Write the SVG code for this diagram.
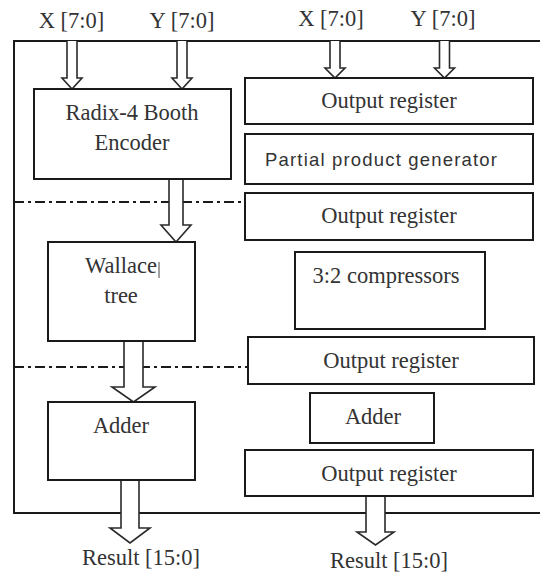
<svg xmlns="http://www.w3.org/2000/svg" width="540" height="575" viewBox="0 0 540 575">
<style>
.box{fill:#fff;stroke:#1a1a1a;stroke-width:2}
.arr{fill:#fff;stroke:#2a2a2a;stroke-width:1.6;stroke-linejoin:miter}
.frame{fill:none;stroke:#1a1a1a;stroke-width:2}
.dd{fill:none;stroke:#1a1a1a;stroke-width:2;stroke-dasharray:10 4 3 4}
.t{font-family:"Liberation Serif","Times New Roman",serif;font-size:22.5px;fill:#333;text-anchor:middle}
.s{font-family:"Liberation Sans",Arial,sans-serif;font-size:18.5px;fill:#333;text-anchor:middle}
</style>
<rect width="540" height="575" fill="#fff"/>
<path class="frame" d="M540,41 H14 V513 H540"/>
<g id="connectors">
<line class="dd" x1="14" y1="202" x2="245" y2="202"/>
<line class="dd" x1="14" y1="367" x2="248" y2="367"/>
<path class="arr" d="M67,41 V78 H62 L72,89 L82,78 H77 V41"/>
<path class="arr" d="M177,41 V78 H172 L182,89 L192,78 H187 V41"/>
<path class="arr" d="M330,41 V68 H325 L335,78 L345,68 H340 V41"/>
<path class="arr" d="M439.5,41 V68 H434.5 L444.5,78 L454.5,68 H449.5 V41"/>
<path class="arr" d="M169,179 V225 H161 L176,242 L191,225 H183 V179"/>
<path class="arr" d="M124,341 V387 H112 L133.5,402 L155,387 H143 V341"/>
<path class="arr" d="M121,480 V528 H110 L130,543 L150,528 H139 V480"/>
<path class="arr" d="M366,496 V532 H357 L375.5,545 L394,532 H385 V496"/>
</g>
<text class="t" x="71.5" y="28">X [7:0]</text>
<text class="t" x="182" y="28">Y [7:0]</text>
<text class="t" x="331" y="26">X [7:0]</text>
<text class="t" x="443" y="26">Y [7:0]</text>
<g id="booth">
<rect class="box" x="34" y="89" width="197" height="90"/>
<text class="t" x="132" y="120">Radix-4 Booth</text>
<text class="t" x="132" y="150">Encoder</text>
</g>
<g id="wallace">
<rect class="box" x="48" y="242" width="147" height="99"/>
<text class="t" x="121" y="273">Wallace</text>
<line x1="159" y1="262" x2="159" y2="278" stroke="#444" stroke-width="1"/>
<text class="t" x="121" y="303">tree</text>
</g>
<g id="adder-left">
<rect class="box" x="48" y="402" width="147" height="78"/>
<text class="t" x="121" y="433">Adder</text>
</g>
<text class="t" x="141" y="565">Result [15:0]</text>
<g id="outreg1">
<rect class="box" x="245" y="78" width="288" height="46"/>
<text class="t" x="389" y="108">Output register</text>
</g>
<g id="ppg">
<rect class="box" x="245" y="134" width="288" height="50"/>
<text class="s" x="381" y="166" textLength="232" lengthAdjust="spacing">Partial product generator</text>
</g>
<g id="outreg2">
<rect class="box" x="245" y="193" width="288" height="47"/>
<text class="t" x="389" y="223">Output register</text>
</g>
<g id="compressors">
<rect class="box" x="295" y="252" width="190" height="77"/>
<text class="t" x="386" y="283">3:2 compressors</text>
</g>
<g id="outreg3">
<rect class="box" x="248" y="337" width="286" height="47"/>
<text class="t" x="391" y="368">Output register</text>
</g>
<g id="adder-right">
<rect class="box" x="310" y="393" width="124" height="50"/>
<text class="t" x="373" y="424">Adder</text>
</g>
<g id="outreg4">
<rect class="box" x="245" y="450" width="288" height="46"/>
<text class="t" x="389" y="481">Output register</text>
</g>
<text class="t" x="389" y="568">Result [15:0]</text>
</svg>
